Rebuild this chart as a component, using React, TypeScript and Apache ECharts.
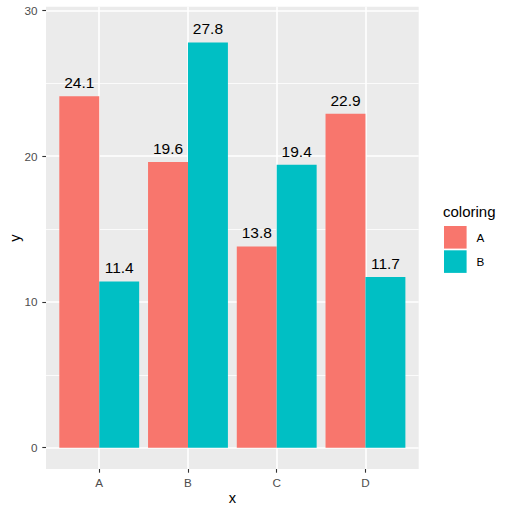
import React, { useEffect, useRef } from "react";
import * as echarts from "echarts";

const categories = ["A", "B", "C", "D"];
const seriesNames = ["A", "B"];
const valuesA = [24.1, 19.6, 13.8, 22.9];
const valuesB = [11.4, 27.8, 19.4, 11.7];
const yTicks = [0, 10, 20, 30];
const colors = ["#F8766D", "#00BFC4"];

const FONT = "Liberation Sans, Arial, Helvetica, sans-serif";

export default function App() {
  const ref = useRef<HTMLDivElement>(null);
  useEffect(() => {
    if (!ref.current) return;
    const chart = echarts.init(ref.current, null, { renderer: "svg" });
    const W = 511;
    const H = 513;
    const panelL = 46, panelR = 418.7, panelT = 6.7, panelB = 469;
    const y0 = 447.7, y30 = 10.3;
    const unit = (panelR - panelL) / (categories.length + 0.2);
    const mkSeries = (name: string, vals: number[], i: number) => ({
      name,
      type: "bar",
      xAxisIndex: 0,
      yAxisIndex: 0,
      data: vals.map((v, k) => [k + 1, v]),
      barWidth: unit * 0.45,
      barGap: "0%",
      clip: false,
      itemStyle: { color: colors[i] },
      label: {
        show: true,
        position: "top",
        distance: 5.5,
        fontSize: 15.5,
        color: "#000",
        fontFamily: FONT,
        formatter: (p: any) => Number(p.value[1]).toFixed(1),
      },
    });
    chart.setOption({
      animation: false,
      textStyle: { fontFamily: FONT },
      graphic: [
        {
          type: "rect",
          z: -10,
          shape: { x: panelL, y: panelT, width: panelR - panelL, height: panelB - panelT },
          style: { fill: "#EBEBEB" },
        },
        {
          type: "text",
          x: 232.4,
          y: 498,
          style: { text: "x", fontSize: 14.7, fill: "#000", align: "center", verticalAlign: "middle", fontFamily: FONT },
        },
        {
          type: "text",
          x: 15,
          y: 238,
          rotation: Math.PI / 2,
          style: { text: "y", fontSize: 14.7, fill: "#000", align: "center", verticalAlign: "middle", fontFamily: FONT },
        },
        {
          type: "text",
          x: 443,
          y: 211,
          style: { text: "coloring", fontSize: 15, fill: "#000", align: "left", verticalAlign: "middle", fontFamily: FONT },
        },
      ],
      legend: {
        data: seriesNames,
        orient: "vertical",
        left: 444,
        top: 226,
        itemWidth: 22.6,
        itemHeight: 22.6,
        itemGap: 1.7,
        icon: "rect",
        padding: 0,
        selectedMode: false,
        textStyle: { fontSize: 11.7, color: "#000", fontFamily: FONT, padding: [0, 0, 0, 5] },
      },
      grid: [
        { left: panelL, right: W - panelR, top: y30, bottom: H - y0 },
        { left: panelL + unit * 0.6, right: W - (panelR - unit * 0.6), top: panelT, bottom: H - panelB },
      ],
      xAxis: [
        { type: "value", gridIndex: 0, min: 0.4, max: categories.length + 0.6, show: false },
        {
          type: "category",
          gridIndex: 1,
          data: categories,
          boundaryGap: false,
          axisLine: { show: false },
          axisTick: { show: true, length: 3.7, lineStyle: { color: "#333333", width: 1.1 } },
          axisLabel: { color: "#4D4D4D", fontSize: 11.7, margin: 7, fontFamily: FONT },
          splitLine: { show: true, lineStyle: { color: "#FFFFFF", width: 1.6 } },
        },
      ],
      yAxis: [
        {
          type: "value",
          gridIndex: 0,
          min: yTicks[0],
          max: yTicks[yTicks.length - 1],
          interval: yTicks[1] - yTicks[0],
          axisLine: { show: false },
          axisTick: { show: true, length: 3.7, lineStyle: { color: "#333333", width: 1.1 } },
          axisLabel: { color: "#4D4D4D", fontSize: 11.7, margin: 8.5, fontFamily: FONT },
          splitLine: { show: true, lineStyle: { color: "#FFFFFF", width: 1.6 } },
          minorTick: { show: false, splitNumber: 2 },
          minorSplitLine: { show: true, lineStyle: { color: "#FFFFFF", width: 0.8 } },
        },
        { type: "value", gridIndex: 1, min: 0, max: 1, show: false },
      ],
      series: [mkSeries(seriesNames[0], valuesA, 0), mkSeries(seriesNames[1], valuesB, 1)],
    });
    return () => chart.dispose();
  }, []);
  return <div ref={ref} style={{ width: 511, height: 513, position: "absolute", left: 0, top: 0 }} />;
}
